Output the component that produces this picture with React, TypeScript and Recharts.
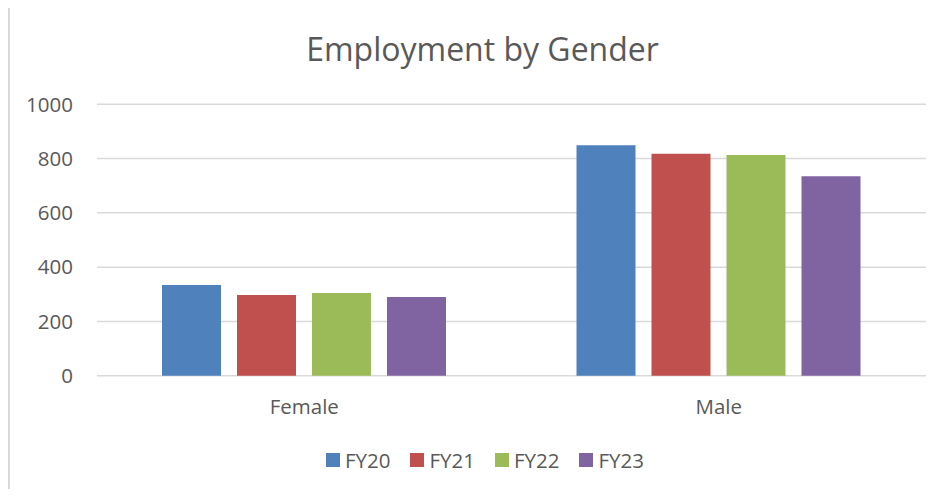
import React from 'react';
import { BarChart, Bar, XAxis, YAxis, CartesianGrid, Legend } from 'recharts';

const title = 'Employment by Gender';
const categories = ['Female', 'Male'];
const seriesNames = ['FY20', 'FY21', 'FY22', 'FY23'];
const fy20 = [334, 849];
const fy21 = [297, 818];
const fy22 = [305, 813];
const fy23 = [290, 735];
const yTicks = [0, 200, 400, 600, 800, 1000];
const colors = ['#4F81BD', '#C0504D', '#9BBB59', '#8064A2'];

const seriesValues = [fy20, fy21, fy22, fy23];
const data = categories.map((c, i) => {
  const row: Record<string, string | number> = { category: c };
  seriesNames.forEach((s, j) => {
    row[s] = seriesValues[j][i];
  });
  return row;
});

const FONT = '"Open Sans", sans-serif';
const TEXT = '#595959';

const LegendContent = (props: any) => {
  const payload = props.payload || [];
  return (
    <div style={{ display: 'flex', alignItems: 'center', height: 24, fontFamily: FONT }}>
      {payload.map((p: any) => (
        <div key={p.value} style={{ display: 'flex', alignItems: 'center', marginRight: 20 }}>
          <span style={{ display: 'inline-block', width: 14, height: 14, background: p.color, marginRight: 5 }} />
          <span style={{ fontSize: 20.5, color: TEXT, lineHeight: '24px' }}>{p.value}</span>
        </div>
      ))}
    </div>
  );
};

export default function App() {
  return (
    <div style={{ position: 'relative', width: 929, height: 481 }}>
      <div
        style={{
          position: 'absolute',
          left: 0,
          top: -3,
          width: 937,
          height: 492,
          boxSizing: 'border-box',
          borderTop: '2px solid #d9d9d9',
          borderLeft: '2px solid #d9d9d9',
        }}
      />
      <div
        style={{
          position: 'absolute',
          left: 0,
          top: 18.8,
          width: 949,
          textAlign: 'center',
          fontFamily: FONT,
          fontSize: 32,
          color: TEXT,
          lineHeight: 'normal',
          whiteSpace: 'nowrap',
        }}
      >
        {title}
      </div>
      <BarChart
        width={929}
        height={481}
        data={data}
        margin={{ top: 96.3, right: 11, left: 0, bottom: 83.3 }}
        barSize={59}
        barGap={16}
      >
        <CartesianGrid vertical={false} stroke="#d9d9d9" strokeWidth={1.5} />
        <XAxis
          dataKey="category"
          axisLine={false}
          tickLine={false}
          tickMargin={18}
          height={30}
          tick={{ fill: TEXT, fontSize: 20.5, fontFamily: FONT }}
        />
        <YAxis
          width={89}
          domain={[0, 1000]}
          ticks={yTicks}
          axisLine={false}
          tickLine={false}
          tickMargin={18}
          tick={{ fill: TEXT, fontSize: 20.5, fontFamily: FONT }}
        />
        <Legend
          verticalAlign="middle"
          align="center"
          wrapperStyle={{ top: 440, left: 318, width: 'auto' }}
          content={<LegendContent />}
        />
        {seriesNames.map((s, i) => (
          <Bar key={s} dataKey={s} fill={colors[i]} isAnimationActive={false} />
        ))}
      </BarChart>
    </div>
  );
}
